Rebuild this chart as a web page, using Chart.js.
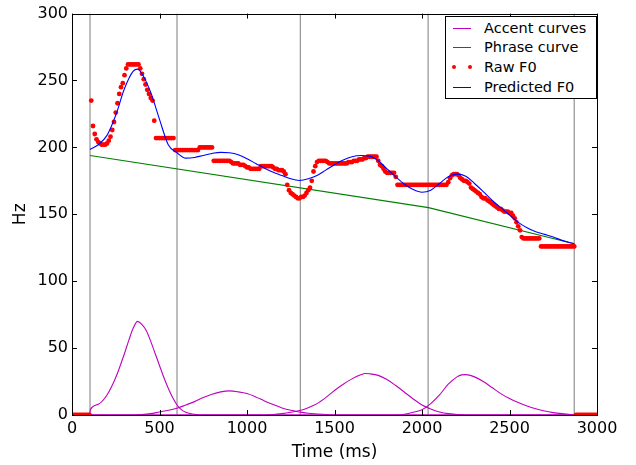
<!DOCTYPE html>
<html>
<head>
<meta charset="utf-8">
<script src="https://cdn.jsdelivr.net/npm/chart.js@4.4.0/dist/chart.umd.min.js"></script>
<style>
  html, body { margin: 0; padding: 0; background: #fff; }
  #wrap { position: relative; width: 636px; height: 465px; }
  #legend {
    position: absolute; left: 445px; top: 16px; width: 150px; height: 81px;
    border: 1px solid #000; background: #fff;
    font-family: "DejaVu Sans", sans-serif; font-size: 14.5px; color: #000;
  }
  .row { position: absolute; left: 0; width: 150px; height: 20px; }
  .sample { position: absolute; left: 7px; top: 10px; width: 18px; height: 1px; }
  .dot { position: absolute; top: 8px; width: 4px; height: 4px; border-radius: 2px; }
  .txt { position: absolute; left: 38px; top: 0; line-height: 20px; white-space: nowrap; }
</style>
</head>
<body>
<div id="wrap">
  <canvas id="chart" width="636" height="465"></canvas>
  <div id="legend"></div>
</div>
<script>
document.addEventListener("DOMContentLoaded", function () {

  // raw F0, one value every 10 ms from 0 to 3000 (0 = unvoiced)
  const RAW_STEP = 10;
  const RAW_F0 = [
    0, 0, 0, 0, 0, 0, 0, 0, 0, 0,
    0, 235, 216, 210, 206, 204, 203, 202, 202, 202,
    203, 205, 208, 213, 219, 226, 233, 240, 245, 248,
    254, 259, 262, 262, 262, 262, 262, 262, 262, 259,
    255, 251, 247, 243, 240, 237, 235, 220, 207, 207,
    207, 207, 207, 207, 207, 207, 207, 207, 207, 198,
    198, 198, 198, 198, 198, 198, 198, 198, 198, 198,
    198, 198, 198, 200, 200, 200, 200, 200, 200, 200,
    200, 190, 190, 190, 190, 190, 190, 190, 190, 190,
    190, 189, 188, 188, 188, 188, 187, 187, 187, 186,
    185, 185, 184, 184, 184, 184, 184, 184, 186, 186,
    186, 186, 186, 186, 186, 185, 184, 184, 183, 183,
    183, 182, 180, 172, 168, 166, 165, 164, 163, 162,
    162, 163, 163, 164, 166, 168, 170, 175, 182, 186,
    189, 190, 190, 190, 190, 190, 189, 188, 188, 188,
    188, 188, 188, 188, 188, 188, 188, 188, 189, 189,
    189, 190, 190, 190, 191, 191, 191, 192, 192, 193,
    193, 193, 193, 193, 193, 190, 187, 186, 184, 182,
    181, 181, 181, 181, 181, 178, 172, 172, 172, 172,
    172, 172, 172, 172, 172, 172, 172, 172, 172, 172,
    172, 172, 172, 172, 172, 172, 172, 172, 172, 172,
    172, 172, 172, 172, 172, 174, 177, 179, 180, 180,
    180, 179, 177, 176, 175, 175, 174, 173, 170, 169,
    168, 167, 166, 165, 163, 162, 162, 161, 160, 159,
    158, 157, 156, 155, 154, 154, 153, 152, 152, 152,
    151, 151, 149, 147, 144, 141, 138, 133, 132, 132,
    132, 132, 132, 132, 132, 132, 132, 132, 126, 126,
    126, 126, 126, 126, 126, 126, 126, 126, 126, 126,
    126, 126, 126, 126, 126, 126, 126, 126, 0, 0,
    0, 0, 0, 0, 0, 0, 0, 0, 0, 0,
    0
  ];

  const PRED_T = [103, 150, 200, 250, 300, 350, 375, 400, 450, 500, 550, 600, 650, 700, 750,
    800, 850, 900, 950, 1000, 1050, 1100, 1150, 1200, 1250, 1300, 1350, 1400, 1450, 1500,
    1550, 1600, 1650, 1700, 1750, 1800, 1850, 1900, 1950, 2000, 2050, 2100, 2150, 2200,
    2250, 2300, 2350, 2400, 2450, 2500, 2550, 2600, 2650, 2700, 2750, 2800, 2870];
  const PRED_F0 = [198.5, 202, 209, 224, 244, 257, 258.5, 255, 241, 221, 202, 196, 192, 192.5, 194,
    195.5, 196.3, 196, 194.5, 191.5, 188, 184.5, 181.5, 179, 176.5, 175.3, 176.5, 179, 183, 187,
    190.5, 193, 194, 193.5, 190, 184, 178, 172.5, 168.5, 166.5, 168, 173, 178, 180,
    178.5, 173, 167, 160.5, 155, 149.5, 144, 140, 137, 135, 133, 130.5, 128];

  const PHRASE_T = [103, 2037, 2870];
  const PHRASE_F0 = [194, 155, 128];

  const ACCENTS = [
    [[0, 0], [100, 0], [105, 4], [150, 8], [200, 15], [250, 28], [300, 46], [325, 56], [350, 65],
     [375, 70], [400, 67.5], [425, 63], [450, 55], [475, 46], [500, 37], [525, 28], [550, 20],
     [575, 13], [600, 7.5], [625, 4], [650, 2], [700, 0.5], [750, 0], [3000, 0]],
    [[0, 0], [350, 0], [400, 0.3], [450, 1], [500, 2.3], [550, 3.5], [600, 5], [650, 7.5], [700, 10],
     [750, 13], [800, 15.5], [850, 17.3], [900, 18], [950, 17.3], [1000, 16], [1050, 13.5],
     [1100, 10.5], [1150, 7.8], [1200, 5.3], [1250, 3.5], [1300, 2.3], [1350, 1.3], [1400, 0.8],
     [1450, 0.4], [1500, 0], [3000, 0]],
    [[0, 0], [1100, 0], [1150, 0.3], [1200, 1], [1250, 2], [1300, 3.3], [1350, 5.5], [1400, 8.5],
     [1450, 13], [1500, 18.3], [1550, 23], [1600, 27], [1650, 30], [1675, 31], [1700, 30.8],
     [1750, 29.6], [1800, 26.5], [1850, 22], [1900, 17], [1950, 12], [2000, 7.5], [2050, 4.5],
     [2100, 2.3], [2150, 1], [2200, 0.4], [2250, 0], [3000, 0]],
    [[0, 0], [1850, 0], [1900, 0.5], [1950, 2], [2000, 4], [2050, 8.5], [2100, 15], [2150, 23],
     [2200, 28.5], [2225, 30], [2250, 30.2], [2300, 28.5], [2350, 25], [2400, 20.5], [2450, 16],
     [2500, 12.3], [2550, 9.3], [2600, 6.8], [2650, 4.7], [2700, 3], [2750, 1.8], [2800, 1],
     [2850, 0.4], [2900, 0], [3000, 0]]
  ];

  const BOUNDARIES = [103, 600, 1305, 2035, 2870];

  const X_TICKS = [0, 500, 1000, 1500, 2000, 2500, 3000];
  const Y_TICKS = [0, 50, 100, 150, 200, 250, 300];

  const COLORS = {
    accent: '#bf00bf',
    phrase: '#008000',
    raw: '#ff0000',
    pred: '#0000ff',
    bound: '#9a9a9a'
  };

  const datasets = [];

  datasets.push({
    label: 'Predicted F0',
    data: PRED_T.map((t, i) => ({ x: t, y: PRED_F0[i] })),
    borderColor: COLORS.pred, borderWidth: 1.1, pointRadius: 0,
    cubicInterpolationMode: 'monotone', order: 1
  });
  datasets.push({
    label: 'Raw F0',
    data: RAW_F0.map((v, i) => ({ x: i * RAW_STEP, y: v })),
    showLine: false, pointRadius: 2.4, pointBorderWidth: 0,
    pointBackgroundColor: COLORS.raw, borderColor: COLORS.raw, order: 2
  });
  datasets.push({
    label: 'Phrase curve',
    data: PHRASE_T.map((t, i) => ({ x: t, y: PHRASE_F0[i] })),
    borderColor: COLORS.phrase, borderWidth: 1.1, pointRadius: 0, order: 3
  });
  ACCENTS.forEach((a, i) => {
    datasets.push({
      label: i === 0 ? 'Accent curves' : '',
      data: a.map(p => ({ x: p[0], y: p[1] })),
      borderColor: COLORS.accent, borderWidth: 1.1, pointRadius: 0,
      cubicInterpolationMode: 'monotone', order: 4
    });
  });
  BOUNDARIES.forEach(b => {
    datasets.push({
      label: '',
      data: [{ x: b, y: 0 }, { x: b, y: 300 }],
      borderColor: COLORS.bound, borderWidth: 1.3, pointRadius: 0, order: 5
    });
  });

  // frame on all four sides, ticks pointing inward
  const frame = {
    id: 'frame',
    afterDatasetsDraw(chart) {
      const { ctx, chartArea: a, scales: { x, y } } = chart;
      ctx.save();
      ctx.strokeStyle = '#000';
      ctx.lineWidth = 1;
      ctx.beginPath();
      X_TICKS.forEach(v => {
        const px = Math.round(x.getPixelForValue(v)) + 0.5;
        ctx.moveTo(px, a.bottom); ctx.lineTo(px, a.bottom - 5);
        ctx.moveTo(px, a.top); ctx.lineTo(px, a.top + 5);
      });
      Y_TICKS.forEach(v => {
        const py = Math.round(y.getPixelForValue(v)) + 0.5;
        ctx.moveTo(a.left, py); ctx.lineTo(a.left + 5, py);
        ctx.moveTo(a.right, py); ctx.lineTo(a.right - 5, py);
      });
      ctx.stroke();
      ctx.strokeRect(Math.round(a.left) + 0.5, Math.round(a.top) + 0.5,
        Math.round(a.right - a.left), Math.round(a.bottom - a.top));
      ctx.restore();
    }
  };

  const font = { family: '"DejaVu Sans", sans-serif', size: 16 };

  new Chart(document.getElementById('chart'), {
    type: 'line',
    data: { datasets },
    options: {
      responsive: false,
      animation: false,
      devicePixelRatio: 1,
      layout: { padding: { top: 11, right: 39, left: 0, bottom: 0 } },
      plugins: { legend: { display: false }, tooltip: { enabled: false } },
      scales: {
        x: {
          type: 'linear', min: 0, max: 3000,
          afterFit: s => { s.height = 50; },
          afterBuildTicks: s => { s.ticks = X_TICKS.map(v => ({ value: v })); },
          grid: { display: false, drawTicks: false },
          border: { display: false },
          ticks: { color: '#000', font, padding: 4, maxRotation: 0, autoSkip: false,
                   callback: v => String(v) },
          title: { display: true, text: 'Time (ms)', color: '#000',
                   font: { family: font.family, size: 17 }, padding: { top: 0, bottom: 2 } }
        },
        y: {
          min: 0, max: 300,
          afterFit: s => { s.width = 72; },
          afterBuildTicks: s => { s.ticks = Y_TICKS.map(v => ({ value: v })); },
          grid: { display: false, drawTicks: false },
          border: { display: false },
          ticks: { color: '#000', font, padding: 4, autoSkip: false,
                   callback: v => String(v) },
          title: { display: true, text: 'Hz', color: '#000',
                   font: { family: font.family, size: 17 }, padding: { top: 10, bottom: 0 } }
        }
      }
    },
    plugins: [frame]
  });

  // legend box, same order as the reference
  const LEGEND = [
    { text: 'Accent curves', color: COLORS.accent, kind: 'line' },
    { text: 'Phrase curve', color: COLORS.phrase, kind: 'line' },
    { text: 'Raw F0', color: COLORS.raw, kind: 'dots' },
    { text: 'Predicted F0', color: COLORS.pred, kind: 'line' }
  ];
  const legend = document.getElementById('legend');
  LEGEND.forEach((item, i) => {
    const row = document.createElement('div');
    row.className = 'row';
    row.style.top = (0.7 + i * 19.7) + 'px';
    if (item.kind === 'line') {
      row.innerHTML = `<div class="sample" style="background:${item.color}"></div>`;
    } else {
      row.innerHTML = `<div class="dot" style="left:6px;background:${item.color}"></div>` +
                      `<div class="dot" style="left:22px;background:${item.color}"></div>`;
    }
    row.innerHTML += `<div class="txt">${item.text}</div>`;
    legend.appendChild(row);
  });

});
</script>
</body>
</html>
